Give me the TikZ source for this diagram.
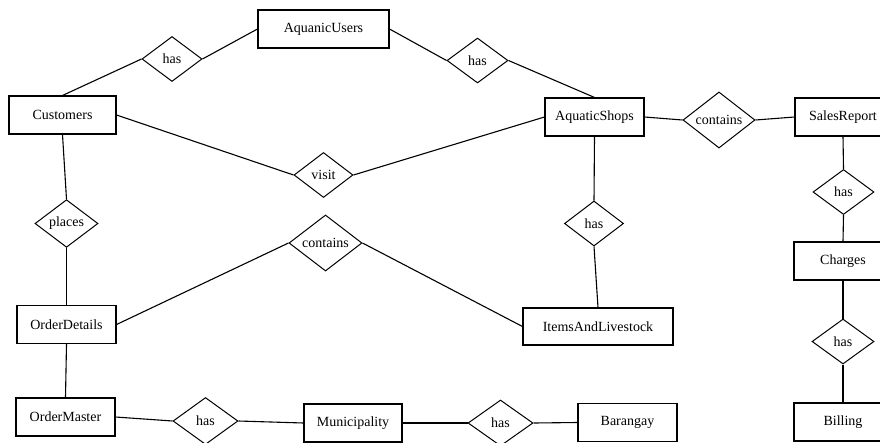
\documentclass[tikz,border=0pt]{standalone}
\usepackage{fontspec}
\newfontfamily\erfont{Liberation Serif}
\usetikzlibrary{shapes.geometric}
\begin{document}
\begin{tikzpicture}[x=1pt,y=-1pt,
  every node/.style={font=\erfont\fontsize{14}{16}\selectfont, inner sep=0pt},
  entity/.style={draw, rectangle, line width=1.1pt, minimum height=38pt},
  rel/.style={draw, diamond, line width=1pt, minimum height=45pt},
  link/.style={line width=1.1pt}]
  \useasboundingbox (0,0) rectangle (880,442);
  \fill[white] (0,0) rectangle (880,442);
  \clip (0,0) rectangle (880,442);

  % entities
  \node[entity, minimum width=131pt] (au)      at (323.5,29)   {AquanicUsers};
  \node[entity, minimum width=107pt] (cust)    at (62.5,115)   {Customers};
  \node[entity, minimum width=99pt]  (shops)   at (594.5,117)  {AquaticShops};
  \node[entity, minimum width=96pt]  (sales)   at (843,117)    {SalesReport};
  \node[entity, minimum width=98pt]  (charges) at (843,261)    {Charges};
  \node[entity, minimum width=98pt]  (billing) at (843,422)    {Billing};
  \node[entity, minimum width=99pt]  (od)      at (66.5,324.5) {OrderDetails};
  \node[entity, minimum width=150pt, minimum height=37pt] (items) at (598,326.5) {ItemsAndLivestock};
  \node[entity, minimum width=99pt]  (om)      at (65.5,417)   {OrderMaster};
  \node[entity, minimum width=98pt]  (muni)    at (353,423)    {Municipality};
  \node[entity, minimum width=99pt]  (bar)     at (627.5,422.5){Barangay};

  % relationships
  \node[rel, minimum width=60pt] (has1)   at (172,59)     {has};
  \node[rel, minimum width=61pt] (has2)   at (477.5,60.5) {has};
  \node[rel, minimum width=59pt] (visit)  at (323.5,175)  {visit};
  \node[rel, minimum width=72pt] (cont1)  at (719,120)    {contains};
  \node[rel, minimum width=61pt] (has3)   at (843.5,192)  {has};
  \node[rel, minimum width=59pt] (has5)   at (594,223.5)  {has};
  \node[rel, minimum width=63pt, minimum height=43pt] (places) at (66.5,223.5) {places};
  \node[rel, minimum width=73pt, minimum height=44pt] (cont2)  at (325.5,243)  {contains};
  \node[rel, minimum width=62pt] (has4)   at (843,341.5)  {has};
  \node[rel, minimum width=65pt, minimum height=47pt] (has6) at (205.5,421) {has};
  \node[rel, minimum width=65pt, minimum height=46pt] (has7) at (500.5,423) {has};

  % connectors
  \draw[link] (cust.north) -- (has1.west);
  \draw[link] (has1.east) -- (au.west);
  \draw[link] (au.east) -- (has2.west);
  \draw[link] (has2.east) -- (shops.north);
  \draw[link] (cust.east) -- (visit.west);
  \draw[link] (visit.east) -- (shops.west);
  \draw[link] (shops.east) -- (cont1.west);
  \draw[link] (cont1.east) -- (sales.west);
  \draw[link] (sales.south) -- (has3.north);
  \draw[link] (has3.south) -- (charges.north);
  \draw[link] (charges.south) -- (has4.north);
  \draw[link] (has4.south) -- (billing.north);
  \draw[link] (shops.south) -- (has5.north);
  \draw[link] (has5.south) -- (items.north);
  \draw[link] (cust.south) -- (places.north);
  \draw[link] (places.south) -- (od.north);
  \draw[link] (od.east) -- (cont2.west);
  \draw[link] (cont2.east) -- (items.west);
  \draw[link] (od.south) -- (om.north);
  \draw[link] (om.east) -- (has6.west);
  \draw[link] (has6.east) -- (muni.west);
  \draw[link] (muni.east) -- (has7.west);
  \draw[link] (has7.east) -- (bar.west);
\end{tikzpicture}
\end{document}
